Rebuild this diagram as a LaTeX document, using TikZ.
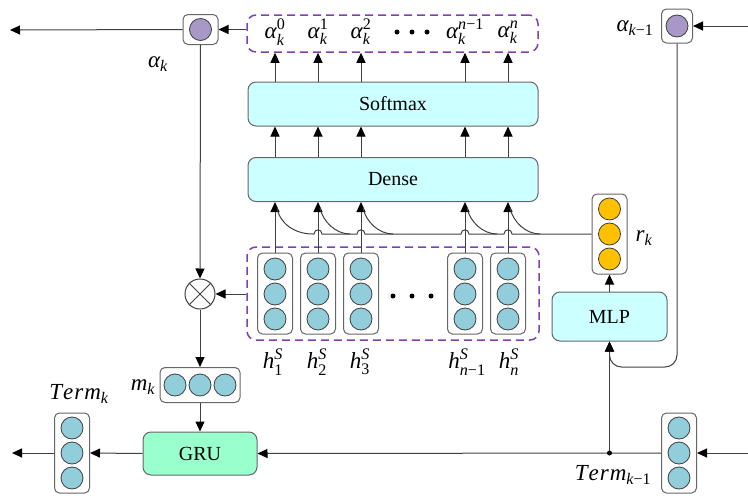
\documentclass[tikz,border=0pt]{standalone}
\usepackage{amsmath}
\usepackage{fontspec}
\setmainfont{Liberation Serif}
\usetikzlibrary{arrows.meta}
\definecolor{cyanbox}{HTML}{CCFFFF}
\definecolor{grubox}{HTML}{99FFCC}
\definecolor{bluecell}{HTML}{92CDDC}
\definecolor{purplecell}{HTML}{A898C8}
\definecolor{orangecell}{HTML}{FFC000}
\definecolor{dashpurple}{HTML}{8040B0}
\newcommand{\mi}[1]{\textit{#1}}

\begin{document}
\begin{tikzpicture}[x=1pt, y=-1pt, font=\fontsize{20}{24}\selectfont,
	line/.style={draw=black!75, line width=1pt},
	arr/.style={line, -{Triangle[length=10pt,width=9pt,color=black]}},
	cellbox/.style={draw=black!60, line width=1pt, rounded corners=5pt, fill=white, inner sep=0},
	layer/.style={draw=black!60, line width=1pt, rounded corners=8pt, fill=cyanbox, minimum width=290pt, minimum height=44pt},
	unit/.style={circle, draw=black!75, line width=0.8pt, fill=bluecell, minimum size=22pt, inner sep=0},
	group/.style={draw=dashpurple, dash pattern=on 8pt off 5pt, line width=1.5pt, rounded corners=9pt, inner sep=0},
	lbl/.style={font=\fontsize{23}{26}\selectfont, inner sep=1pt}]
			\useasboundingbox (0,0) rectangle (748,498);
			
			% attention weights
			\node[group, minimum width=291pt, minimum height=37pt] (alset) at (392.5,33.5) {};
			\node[lbl] (a0) at (275,32) {$\mi{α}_{\mi{k}}^{\text{0}}$};
			\node[lbl] (a1) at (318,32) {$\mi{α}_{\mi{k}}^{\text{1}}$};
			\node[lbl] (a2) at (361,32) {$\mi{α}_{\mi{k}}^{\text{2}}$};
			\node[lbl] (am) at (465,32) {$\mi{α}_{\mi{k}}^{\mi{n}\text{−1}}$};
			\node[lbl] (an) at (508,32) {$\mi{α}_{\mi{k}}^{\mi{n}}$};
			\fill[black] (397,32) circle (2.5pt);
			\fill[black] (412,32) circle (2.5pt);
			\fill[black] (427,32) circle (2.5pt);
			
			\node[layer] (soft) at (393,104) {Softmax};
			\node[layer] (dense) at (393,179.5) {Dense};
			
			% encoder states
			\node[group, minimum width=292pt, minimum height=93pt] (hset) at (393,293.5) {};
			\node[cellbox, minimum width=35pt, minimum height=81pt] (h1) at (275,293.5) {};
			\node[cellbox, minimum width=35pt, minimum height=81pt] (h2) at (318,293.5) {};
			\node[cellbox, minimum width=35pt, minimum height=81pt] (h3) at (361,293.5) {};
			\node[cellbox, minimum width=35pt, minimum height=81pt] (hm) at (465,293.5) {};
			\node[cellbox, minimum width=35pt, minimum height=81pt] (hn) at (508,293.5) {};
			\node[unit] (h1a) at (275,269) {};
			\node[unit] (h1b) at (275,294) {};
			\node[unit] (h1c) at (275,319) {};
			\node[unit] (h2a) at (318,269) {};
			\node[unit] (h2b) at (318,294) {};
			\node[unit] (h2c) at (318,319) {};
			\node[unit] (h3a) at (361,269) {};
			\node[unit] (h3b) at (361,294) {};
			\node[unit] (h3c) at (361,319) {};
			\node[unit] (hma) at (465,269) {};
			\node[unit] (hmb) at (465,294) {};
			\node[unit] (hmc) at (465,319) {};
			\node[unit] (hna) at (508,269) {};
			\node[unit] (hnb) at (508,294) {};
			\node[unit] (hnc) at (508,319) {};
			\fill[black] (393,296) circle (2.5pt);
			\fill[black] (412,296) circle (2.5pt);
			\fill[black] (431,296) circle (2.5pt);
			\node[lbl] (lh1) at (273,362) {$\mi{h}_{\text{1}}^{\mi{S}}$};
			\node[lbl] (lh2) at (317,362) {$\mi{h}_{\text{2}}^{\mi{S}}$};
			\node[lbl] (lh3) at (360,362) {$\mi{h}_{\text{3}}^{\mi{S}}$};
			\node[lbl] (lhm) at (467,362) {$\mi{h}_{\mi{n}\text{−1}}^{\mi{S}}$};
			\node[lbl] (lhn) at (509,362) {$\mi{h}_{\mi{n}}^{\mi{S}}$};
			
			% alpha cells
			\node[cellbox, minimum width=35pt, minimum height=30pt] (ak) at (200.5,29.5) {};
			\node[unit, fill=purplecell] (akc) at (200.5,29.5) {};
			\node[lbl] (lak) at (158,64) {$\mi{α}_{\mi{k}}$};
			\node[cellbox, minimum width=31pt, minimum height=34pt] (akp) at (677,26) {};
			\node[unit, fill=purplecell] (akpc) at (677,26) {};
			\node[lbl] (lakp) at (635,28) {$\mi{α}_{\mi{k}\text{−1}}$};
			
			% query side
			\node[cellbox, minimum width=35pt, minimum height=80pt] (rk) at (609.5,234) {};
			\node[unit, fill=orangecell] (rka) at (609.5,209) {};
			\node[unit, fill=orangecell] (rkb) at (609.5,234) {};
			\node[unit, fill=orangecell] (rkc) at (609.5,259) {};
			\node[lbl] (lrk) at (644,238) {$\mi{r}_{\mi{k}}$};
			\node[layer, minimum width=115pt, minimum height=49pt] (mlp) at (609.5,316.5) {MLP};
			
			% decoder step
			\node[circle, draw=black!75, line width=1pt, fill=white, minimum size=30pt, inner sep=0] (ox) at (200,294) {};
			\draw[line] (ox.45) -- (ox.225);
			\draw[line] (ox.135) -- (ox.315);
			\node[cellbox, minimum width=80pt, minimum height=35pt] (mk) at (200,385) {};
			\node[unit] (mka) at (175,385) {};
			\node[unit] (mkb) at (200,385) {};
			\node[unit] (mkc) at (225,385) {};
			\node[lbl] (lmk) at (143,387) {$\mi{m}_{\mi{k}}$};
			\node[layer, fill=grubox, minimum width=114pt, minimum height=43pt] (gru) at (200,453.5) {GRU};
			\node[cellbox, minimum width=35pt, minimum height=80pt] (tk) at (72,453) {};
			\node[unit] (tka) at (72,428) {};
			\node[unit] (tkb) at (72,453) {};
			\node[unit] (tkc) at (72,478) {};
			\node[lbl] (ltk) at (79,394) {$\mi{T\kern1pt e\kern1pt r\kern1pt m}_{\mi{k}}$};
			\node[cellbox, minimum width=35pt, minimum height=80pt] (tkp) at (679,453) {};
			\node[unit] (tkpa) at (679,428) {};
			\node[unit] (tkpb) at (679,453) {};
			\node[unit] (tkpc) at (679,478) {};
			\node[lbl] (ltkp) at (613,475) {$\mi{T\kern1pt e\kern1pt r\kern1pt m}_{\mi{k}\text{−1}}$};
			
			\coordinate (outA) at (10,30);
			\coordinate (inA) at (748,26);
			\coordinate (outT) at (12,453);
			\coordinate (inT) at (748,453);
			\coordinate (bend) at (640,367);
			\coordinate (j) at (mlp |- tkp);
			\coordinate (c1) at (313,234);
			\coordinate (c2) at (350,234);
			\coordinate (c3) at (393,234);
			\coordinate (c4) at (497,234);
			\coordinate (c5) at (540,234);
			
			% connectors
			\draw[arr] (soft.north -| a0) -- (alset.south -| a0);
			\draw[arr] (soft.north -| a1) -- (alset.south -| a1);
			\draw[arr] (soft.north -| a2) -- (alset.south -| a2);
			\draw[arr] (soft.north -| am) -- (alset.south -| am);
			\draw[arr] (soft.north -| an) -- (alset.south -| an);
			\draw[arr] (dense.north -| a0) -- (soft.south -| a0);
			\draw[arr] (dense.north -| a1) -- (soft.south -| a1);
			\draw[arr] (dense.north -| a2) -- (soft.south -| a2);
			\draw[arr] (dense.north -| am) -- (soft.south -| am);
			\draw[arr] (dense.north -| an) -- (soft.south -| an);
			\draw[arr] (h1.north) -- (dense.south -| h1);
			\draw[arr] (h2.north) -- (dense.south -| h2);
			\draw[arr] (h3.north) -- (dense.south -| h3);
			\draw[arr] (hm.north) -- (dense.south -| hm);
			\draw[arr] (hn.north) -- (dense.south -| hn);
			
			\draw[line] (c1) -- (314,234) .. controls (314,228.5) and (322,228.5) .. (322,234) -- (357,234) .. controls (357,228.5) and (365,228.5) .. (365,234) -- (461,234) .. controls (461,228.5) and (469,228.5) .. (469,234) -- (504,234) .. controls (504,228.5) and (512,228.5) .. (512,234) -- (rk.west);
			\draw[line] (c1) .. controls +(-18,0) and +(3,16) .. ([xshift=2pt,yshift=-6pt]dense.south -| h1);
			\draw[line] (c2) .. controls +(-14,0) and +(3,14) .. ([xshift=2pt,yshift=-6pt]dense.south -| h2);
			\draw[line] (c3) .. controls +(-14,0) and +(3,14) .. ([xshift=2pt,yshift=-6pt]dense.south -| h3);
			\draw[line] (c4) .. controls +(-14,0) and +(3,14) .. ([xshift=2pt,yshift=-6pt]dense.south -| hm);
			\draw[line] (c5) .. controls +(-14,0) and +(3,14) .. ([xshift=2pt,yshift=-6pt]dense.south -| hn);
			
			\draw[arr] (alset.west |- ak.east) -- (ak.east);
			\draw[arr] (ak.west) -- (outA);
			\draw[arr] (inA) -- (akp.east);
			\draw[arr] (ak.south) -- (ox.north);
			\draw[arr] (hset.west |- ox) -- (ox.east);
			\draw[arr] (ox.south) -- (mk.north);
			\draw[arr] (mk.south) -- (gru.north);
			\draw[arr] (gru.west) -- (tk.east);
			\draw[arr] (tk.west) -- (outT);
			\draw[arr] (inT) -- (tkp.east);
			\draw[arr] (tkp.west) -- (gru.east);
			\draw[arr] (mlp.north) -- (rk.south);
			\draw[arr, rounded corners=12pt] (akp.south) |- (bend) -| (mlp.south);
			\draw[arr] (j) -- (mlp.south);
			\fill[black] (j) circle (2.5pt);
			
		\end{tikzpicture}
\end{document}
